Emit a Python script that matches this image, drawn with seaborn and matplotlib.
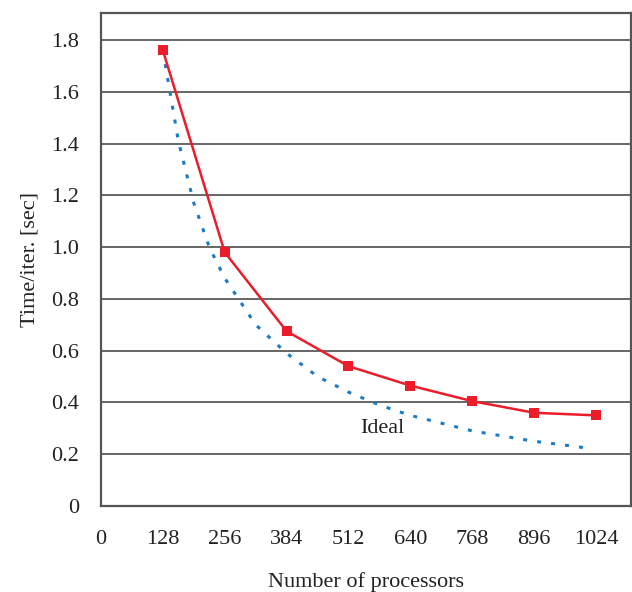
import matplotlib
matplotlib.use("Agg")
import matplotlib.pyplot as plt
import seaborn as sns
import pandas as pd

procs = [128, 256, 384, 512, 640, 768, 896, 1024]
times = [1.76, 0.98, 0.675, 0.54, 0.465, 0.405, 0.36, 0.35]

ideal_procs = [128, 160, 192, 224, 256, 320, 384, 448, 512, 576, 640, 704, 768, 832, 896, 960, 1000]
ideal_times = [1.76, 1.41, 1.17, 1.0, 0.88, 0.70, 0.59, 0.50, 0.44, 0.39, 0.35, 0.32, 0.29, 0.27, 0.25, 0.235, 0.225]

xticks = [0, 128, 256, 384, 512, 640, 768, 896, 1024]
yticks = [0, 0.2, 0.4, 0.6, 0.8, 1.0, 1.2, 1.4, 1.6, 1.8]
ytick_labels = ["0", "0.2", "0.4", "0.6", "0.8", "1.0", "1.2", "1.4", "1.6", "1.8"]

sns.set_theme(style="white")
plt.rcParams['font.family'] = ['Liberation Serif', 'DejaVu Serif']

fig = plt.figure(figsize=(6.32, 5.92), dpi=100)
ax = fig.add_axes([0.1598, 0.1453, 0.998 - 0.1598, 0.978 - 0.1453])

df = pd.DataFrame({"p": procs, "t": times})
dfi = pd.DataFrame({"p": ideal_procs, "t": ideal_times})

sns.lineplot(data=dfi, x="p", y="t", ax=ax, color="#1a7cc4", linestyle=(0, (1.3, 3.3)),
             linewidth=2.2, zorder=3)
sns.lineplot(data=df, x="p", y="t", ax=ax, color="#ec1c2a", linewidth=1.8,
             marker="s", markersize=7.2, markeredgewidth=0, zorder=4)

ax.set_xlim(0, 1096)
ax.set_ylim(0, 1.904)
ax.set_xticks(xticks)
ax.set_xticklabels([str(v) for v in xticks])
ax.set_yticks(yticks)
ax.set_yticklabels(ytick_labels)

for y in yticks[1:]:
    ax.axhline(y, color="#666666", linewidth=1.4, zorder=1)

for s in ax.spines.values():
    s.set_color("#555555")
    s.set_linewidth(1.6)

ax.tick_params(axis="x", direction="in", length=5, width=1.2, color="#555555",
               labelsize=16, pad=17, labelcolor="#222222")
ax.tick_params(axis="y", length=0, labelsize=16, pad=16, labelcolor="#222222")

ax.set_xlabel("Number of processors", fontsize=16, color="#222222", labelpad=17)
ax.set_ylabel("Time/iter. [sec]", fontsize=16, color="#222222", labelpad=8)

ax.text(583, 0.30, "Ideal", fontsize=16, color="#222222", ha="center", va="center")

fig.savefig("out.png", dpi=100)
